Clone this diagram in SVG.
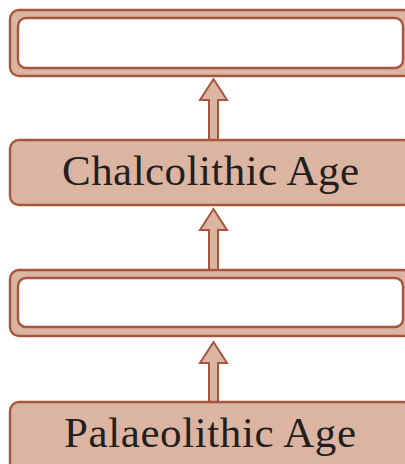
<svg xmlns="http://www.w3.org/2000/svg" width="405" height="464" viewBox="0 0 405 464">
<style>
.outer{fill:#dbb4a2;stroke:#a6563f;stroke-width:2.4}
.inner{fill:#ffffff;stroke:#a6563f;stroke-width:2.4}
.arrow{fill:#dbb4a2;stroke:#a6563f;stroke-width:2;stroke-linejoin:miter}
.lbl{font-family:"Liberation Serif","Times New Roman",serif;font-size:43px;fill:#231f20;text-anchor:middle}
</style>
<rect width="405" height="464" fill="#ffffff"/>
<g id="connectors">
<path class="arrow" d="M209,140 V100 H200 L213.5,79 L227,100 H218 V140"/>
<path class="arrow" d="M209,270 V230 H200 L213.5,209 L227,230 H218 V270"/>
<path class="arrow" d="M209,402 V363 H200 L213.5,342 L227,363 H218 V402"/>
</g>
<g id="node-top">
<rect class="outer" x="10" y="10" width="402" height="66" rx="9"/>
<rect class="inner" x="18" y="18" width="385" height="50" rx="8"/>
</g>
<g id="node-chalcolithic">
<rect class="outer" x="10" y="140" width="402" height="65" rx="9"/>
<text class="lbl" x="210.5" y="185" textLength="297" lengthAdjust="spacing">Chalcolithic Age</text>
</g>
<g id="node-blank">
<rect class="outer" x="10" y="270" width="402" height="66" rx="9"/>
<rect class="inner" x="18" y="278" width="385" height="49" rx="8"/>
</g>
<g id="node-palaeolithic">
<rect class="outer" x="10" y="402" width="402" height="70" rx="9"/>
<text class="lbl" x="210" y="447" textLength="292" lengthAdjust="spacing">Palaeolithic Age</text>
</g>
</svg>
